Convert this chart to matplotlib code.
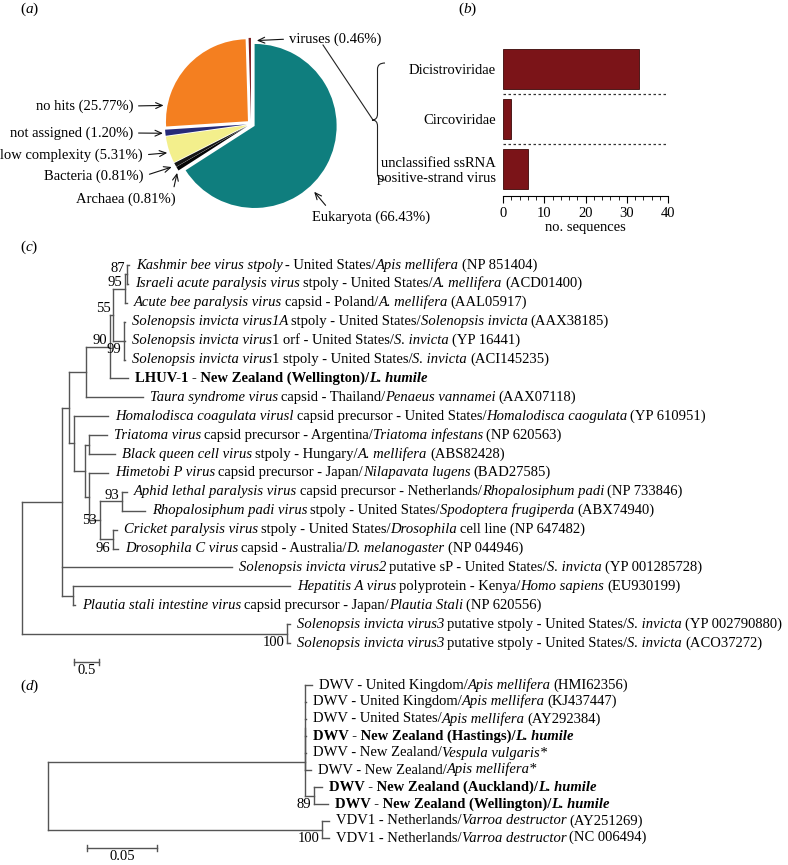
import numpy as np
import matplotlib
matplotlib.use('Agg')
import matplotlib.pyplot as plt
from matplotlib.path import Path
from matplotlib.patches import PathPatch

plt.rcParams['font.family'] = ['Liberation Serif', 'DejaVu Serif']
FS = 10.5
W, H = 788, 865

# ---------------- data ----------------
# (a) read classification
pie_labels = ['viruses', 'no hits', 'not assigned', 'low complexity', 'Bacteria', 'Archaea', 'Eukaryota']
pie_pct = [0.46, 25.77, 1.20, 5.31, 0.81, 0.81, 66.43]
pie_colors = ['#7a1a1c', '#f47f20', '#262b78', '#f3ef8c', '#151515', '#050505', '#0f7e7e']

# (b) viral families
bar_cats = ['Dicistroviridae', 'Circoviridae', 'unclassified ssRNA\npositive-strand virus']
bar_counts = [33, 2, 6]

# (c) tree: internal node = (depth, support, label place, children); leaf = tip depth
tree_c = (0.0, None, None, [
    (0.82, None, None, [
        (0.96, None, None, [
            (1.31, None, None, [
                (1.80, 90, 'above', [
                    (1.86, 55, 'above', [
                        (2.10, 95, 'above', [
                            (2.15, 87, 'above', [2.18, 2.17]),
                            2.14]),
                        (2.08, 99, 'below', [2.10, 2.10, 2.10])]),
                    2.16]),
                2.47]),
            (1.06, None, None, [
                1.76,
                (1.29, None, None, [
                    (1.37, None, None, [1.73, 1.90]),
                    (1.37, None, None, [
                        1.76,
                        (1.59, 53, 'center', [
                            (2.04, 93, 'above', [2.14, 2.51]),
                            (1.86, 96, 'below', [1.94, 1.96])])])])])]),
        4.29,
        (1.04, None, None, [5.47, 1.08])]),
    (5.41, 100, 'below', [5.47, 5.47])])

leaves_c = [
    '_Kashmir bee virus stpoly_ - United States/_Apis mellifera_ (NP 851404)',
    '_Israeli acute paralysis virus_ stpoly - United States/_A. mellifera_ (ACD01400)',
    '_Acute bee paralysis virus_ capsid - Poland/_A. mellifera_ (AAL05917)',
    '_Solenopsis invicta virus1A_ stpoly - United States/_Solenopsis invicta_ (AAX38185)',
    '_Solenopsis invicta virus_1 orf - United States/_S. invicta_ (YP 16441)',
    '_Solenopsis invicta virus_1 stpoly - United States/_S. invicta_ (ACI145235)',
    'LHUV-1 - New Zealand (Wellington)/_L. humile_',
    '_Taura syndrome virus_ capsid - Thailand/_Penaeus vannamei_ (AAX07118)',
    '_Homalodisca coagulata virusl_ capsid precursor - United States/_Homalodisca caogulata_ (YP 610951)',
    '_Triatoma virus_ capsid precursor - Argentina/_Triatoma infestans_ (NP 620563)',
    '_Black queen cell virus_ stpoly - Hungary/_A. mellifera_ (ABS82428)',
    '_Himetobi P virus_ capsid precursor - Japan/_Nilapavata lugens_ (BAD27585)',
    '_Aphid lethal paralysis virus_ capsid precursor - Netherlands/_Rhopalosiphum padi_ (NP 733846)',
    '_Rhopalosiphum padi virus_ stpoly - United States/_Spodoptera frugiperda_ (ABX74940)',
    '_Cricket paralysis virus_ stpoly - United States/_Drosophila_ cell line (NP 647482)',
    '_Drosophila C virus_ capsid - Australia/_D. melanogaster_ (NP 044946)',
    '_Solenopsis invicta virus2_ putative sP - United States/_S. invicta_ (YP 001285728)',
    '_Hepatitis A virus_ polyprotein - Kenya/_Homo sapiens_ (EU930199)',
    '_Plautia stali intestine virus_ capsid precursor - Japan/_Plautia Stali_ (NP 620556)',
    '_Solenopsis invicta virus3_ putative stpoly - United States/_S. invicta_ (YP 002790880)',
    '_Solenopsis invicta virus3_ putative stpoly - United States/_S. invicta_ (ACO37272)',
]
bold_c = [6]

# (d) tree
tree_d = (0.0, None, None, [
    (0.1836, None, None, [
        (0.1836, None, None, [0.1886, 0.1843, 0.1843, 0.1843, 0.1843, 0.1879]),
        (0.1900, 89, 'below', [0.1957, 0.2000])]),
    (0.1957, 100, 'below', [0.2007, 0.2007])])

leaves_d = [
    'DWV - United Kingdom/_Apis mellifera_ (HMI62356)',
    'DWV - United Kingdom/_Apis mellifera_ (KJ437447)',
    'DWV - United States/_Apis mellifera_ (AY292384)',
    'DWV - New Zealand (Hastings)/_L. humile_',
    'DWV - New Zealand/_Vespula vulgaris*_',
    'DWV - New Zealand/_Apis mellifera*_',
    'DWV - New Zealand (Auckland)/_L. humile_',
    'DWV - New Zealand (Wellington)/_L. humile_',
    'VDV1 - Netherlands/_Varroa destructor_ (AY251269)',
    'VDV1 - Netherlands/_Varroa destructor_ (NC 006494)',
]
bold_d = [3, 6, 7]

# ---------------- helpers ----------------
fig = plt.figure(figsize=(W / 100, H / 100), dpi=100)


def px_axes(x0, y0, x1, y1):
    ax = fig.add_axes([x0 / W, 1 - y1 / H, (x1 - x0) / W, (y1 - y0) / H])
    ax.set_facecolor('none')
    return ax


def rich(ax, xy, s, bold=False, xycoords='data', dx=0.0, size=FS):
    # '_' toggles italic; pieces are chained one after another
    segs = [(p, i % 2 == 1) for i, p in enumerate(s.split('_')) if p]
    prev, pending = None, 0
    sw = 0.2 * size
    for text, ital in segs:
        lead = len(text) - len(text.lstrip(' '))
        body = text.strip(' ')
        trail = len(text.rstrip(' ')) and len(text) - len(text.rstrip(' '))
        gap = (pending + lead) * sw
        pending = trail
        kw = dict(fontsize=size, fontstyle='italic' if ital else 'normal',
                  fontweight='bold' if bold else 'normal', ha='left',
                  textcoords='offset points', annotation_clip=False)
        if prev is None:
            t = ax.annotate(body, xy=xy, xycoords=xycoords, xytext=(dx + gap, 0),
                            va='center', **kw)
        else:
            t = ax.annotate(body, xy=(1, 0), xycoords=prev, xytext=(gap, 0),
                            va='bottom', **kw)
        prev = t


LC = '#555555'


def draw_tree(ax, node, tips, lw=1.0):
    if not isinstance(node, tuple):
        tips.append((node, len(tips)))
        return node, len(tips) - 1
    depth, support, place, children = node
    pts = [draw_tree(ax, c, tips, lw) for c in children]
    y0, y1 = pts[0][1], pts[-1][1]
    ax.plot([depth, depth], [y0, y1], color=LC, lw=lw, clip_on=False)
    for cx, cy in pts:
        ax.plot([depth, cx], [cy, cy], color=LC, lw=lw, clip_on=False)
    y = (y0 + y1) / 2
    if support is not None:
        dy = {'above': 4.5, 'below': -6.5, 'center': 0}[place]
        ax.annotate(str(support), xy=(depth, y), xytext=(-2, dy), textcoords='offset points',
                    ha='right', va='center', fontsize=FS, annotation_clip=False)
    return depth, y


def tree_panel(ax, tree, labels, bold_rows):
    tips = []
    draw_tree(ax, tree, tips)
    for (tx, row), lab in zip(tips, labels):
        rich(ax, (tx, row), lab, bold=row in bold_rows, dx=5)
    ax.axis('off')


def scale_bar(ax, x0, length, row, text, tick):
    ax.plot([x0, x0 + length], [row, row], color=LC, lw=1.0, clip_on=False)
    for xx in (x0, x0 + length):
        ax.plot([xx, xx], [row - tick, row + tick], color=LC, lw=1.0, clip_on=False)
    ax.annotate(text, xy=(x0 + length / 2, row), xytext=(0, -1.5), textcoords='offset points',
                ha='center', va='top', fontsize=FS, annotation_clip=False)


# ---------------- overlay (panel letters, connector, brace) ----------------
ov = fig.add_axes([0, 0, 1, 1])
ov.set_xlim(0, W)
ov.set_ylim(H, 0)
ov.axis('off')
for letter, (lx, ly) in zip('abcd', [(20, 9), (458, 9), (20, 247), (20, 686)]):
    rich(ov, (lx, ly), '(_' + letter + '_)', size=FS + 0.5)

ov.plot([323, 373], [45, 120], color='#222222', lw=0.8)
xe, xl, xt, ya, ym, yb = 385, 377.5, 372, 63, 120, 180
verts = [(xe, ya), (xl, ya), (xl, ya + 6), (xl, ym - 6), (xl, ym), (xt, ym),
         (xl, ym), (xl, ym + 6), (xl, yb - 6), (xl, yb), (xe, yb)]
codes = [Path.MOVETO, Path.CURVE3, Path.CURVE3, Path.LINETO, Path.CURVE3, Path.CURVE3,
         Path.CURVE3, Path.CURVE3, Path.LINETO, Path.CURVE3, Path.CURVE3]
ov.add_patch(PathPatch(Path(verts, codes), fc='none', ec='#222222', lw=0.8))

# ---------------- (a) pie ----------------
cx, cy, r = 251, 124, 82
ax_a = px_axes(cx - 1.25 * r, cy - 1.25 * r, cx + 1.25 * r, cy + 1.25 * r)
ax_a.pie(pie_pct, colors=pie_colors, startangle=90, counterclock=True,
         explode=[0.05] * len(pie_pct), wedgeprops=dict(linewidth=0))
ax_a.set_xlim(-1.25, 1.25)
ax_a.set_ylim(-1.25, 1.25)

# text anchor (image px), alignment, arrow start, arrow target (angle, radius)
callouts = [((289, 39), 'left', (0, 0.5), 86, 1.02),
            ((133, 106), 'right', (1, 0.5), 168, 1.09),
            ((133, 133), 'right', (1, 0.5), 186, 1.08),
            ((143, 155), 'right', (1, 0.5), 199, 1.08),
            ((144, 176), 'right', (1, 0.5), 208.5, 1.10),
            ((126, 199), 'center', (0.97, 1.0), 213.5, 1.08),
            ((312, 217), 'left', (0.15, 1.0), -47, 1.13)]
for lab, pct, ((tx, ty), ha, rel, ang, rr) in zip(pie_labels, pie_pct, callouts):
    a = np.deg2rad(ang)
    ax_a.annotate(f'{lab} ({pct:.2f}%)', xy=(rr * np.cos(a), rr * np.sin(a)),
                  xytext=(tx, H - ty), textcoords='figure pixels', ha=ha, va='center',
                  fontsize=FS, annotation_clip=False,
                  arrowprops=dict(arrowstyle='->,head_length=0.45,head_width=0.2', lw=0.8,
                                  color='#111111', shrinkA=2, shrinkB=0, relpos=rel))

# ---------------- (b) bars ----------------
ax_b = px_axes(503, 44, 668, 196)
ypos = np.arange(len(bar_cats))
ax_b.barh(ypos, bar_counts, height=0.81, color='#7b1418', edgecolor='#3a0808', lw=0.6)
ax_b.hlines(ypos[:-1] + 0.5, 0, 40, colors='#333333', linestyles=(0, (2, 2)), lw=0.9)
ax_b.set_xlim(0, 40)
ax_b.set_ylim(2.545, -0.505)
ax_b.set_yticks(ypos)
ax_b.set_yticklabels(bar_cats, fontsize=FS)
ax_b.tick_params(axis='y', length=0, pad=5)
ax_b.set_xticks([0, 10, 20, 30, 40])
ax_b.set_xticks(np.arange(0, 41, 2), minor=True)
ax_b.tick_params(axis='x', which='major', length=5, width=0.8, labelsize=FS, pad=3)
ax_b.tick_params(axis='x', which='minor', length=3, width=0.6)
ax_b.set_xlabel('no. sequences', fontsize=FS, labelpad=1)
for s in ['left', 'top', 'right']:
    ax_b.spines[s].set_visible(False)
ax_b.spines['bottom'].set_linewidth(0.8)

# ---------------- (c) tree ----------------
ux, x0p, rowh, row0 = 49.0, 22.0, 18.9, 265.0
ax_c = px_axes(0, 250, W, 680)
ax_c.set_xlim(-x0p / ux, (W - x0p) / ux)
ax_c.set_ylim((680 - row0) / rowh, (250 - row0) / rowh)
tree_panel(ax_c, tree_c, leaves_c, bold_c)
scale_bar(ax_c, (74 - x0p) / ux, 0.5, (662 - row0) / rowh, '0.5', 0.15)

# ---------------- (d) tree ----------------
ux, x0p, rowh, row0 = 1400.0, 48.0, 17.0, 685.0
ax_d = px_axes(0, 675, W, H)
ax_d.set_xlim(-x0p / ux, (W - x0p) / ux)
ax_d.set_ylim((H - row0) / rowh, (675 - row0) / rowh)
tree_panel(ax_d, tree_d, leaves_d, bold_d)
scale_bar(ax_d, (87 - x0p) / ux, 0.05, (848 - row0) / rowh, '0.05', 0.18)

fig.savefig('out.png', dpi=100)
